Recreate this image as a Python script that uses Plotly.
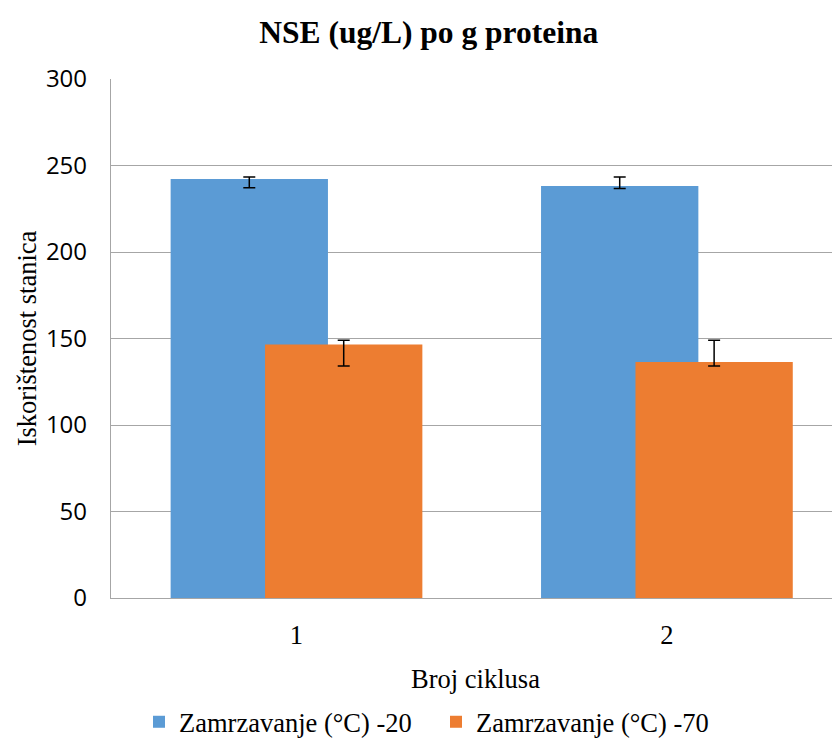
import plotly.graph_objects as go

categories = ["1", "2"]
series_names = ["Zamrzavanje (°C) -20", "Zamrzavanje (°C) -70"]
values_m20 = [242.2, 238.2]
err_plus_m20 = [1.2, 5.2]
err_minus_m20 = [5.0, 1.5]
values_m70 = [146.6, 136.4]
err_plus_m70 = [2.4, 12.6]
err_minus_m70 = [12.5, 2.3]
y_ticks = [0, 50, 100, 150, 200, 250, 300]

BLUE = "#5B9BD5"
ORANGE = "#ED7D31"
SERIF = "Liberation Serif, Times New Roman, serif"
SANS = "Open Sans, sans-serif"
TXT = 26.5

fig = go.Figure()
fig.add_trace(go.Bar(
    x=categories, y=values_m20, name=series_names[0],
    marker=dict(color=BLUE, line=dict(width=0)),
    width=0.4247, offset=-0.3395,
    error_y=dict(type="data", symmetric=False, array=err_plus_m20,
                 arrayminus=err_minus_m20, color="#000000", thickness=1.5, width=6),
))
fig.add_trace(go.Bar(
    x=categories, y=values_m70, name=series_names[1],
    marker=dict(color=ORANGE, line=dict(width=0)),
    width=0.4247, offset=-0.0846,
    error_y=dict(type="data", symmetric=False, array=err_plus_m70,
                 arrayminus=err_minus_m70, color="#000000", thickness=1.5, width=6),
))

fig.update_layout(
    width=832, height=736,
    margin=dict(l=103, r=0, t=71, b=146, autoexpand=False),
    paper_bgcolor="white", plot_bgcolor="white",
    barmode="overlay",
    title=dict(text="<b>NSE (ug/L) po g proteina</b>", x=0.5057, xref="container",
               xanchor="center", y=1 - 24 / 736, yref="container", yanchor="middle",
               font=dict(family=SERIF, size=31.5, color="black")),
    showlegend=True,
    legend=dict(orientation="h", x=0.0384, xanchor="left", y=-0.239, yanchor="middle",
                font=dict(family=SERIF, size=TXT, color="black"),
                itemwidth=30, entrywidth=252, traceorder="normal"),
    xaxis=dict(
        type="category", range=[-0.5005, 1.4676],
        showline=True, linecolor="#A6A6A6", linewidth=1.3,
        showgrid=False, ticks="", ticklabelstandoff=13,
        tickfont=dict(family=SERIF, size=TXT, color="black"),
        title=dict(text="Broj ciklusa", standoff=20,
                   font=dict(family=SERIF, size=TXT, color="black")),
    ),
    yaxis=dict(
        range=[0, 300], tickvals=y_ticks,
        showline=True, linecolor="#A6A6A6", linewidth=1.3,
        showgrid=True, gridcolor="#A6A6A6", gridwidth=1.3,
        zeroline=False, ticks="", ticklabelstandoff=18,
        tickfont=dict(family=SANS, size=24, color="black"),
        title=dict(text="Iskorištenost stanica", standoff=1,
                   font=dict(family=SERIF, size=TXT, color="black")),
    ),
)

fig.write_html("out.html")
